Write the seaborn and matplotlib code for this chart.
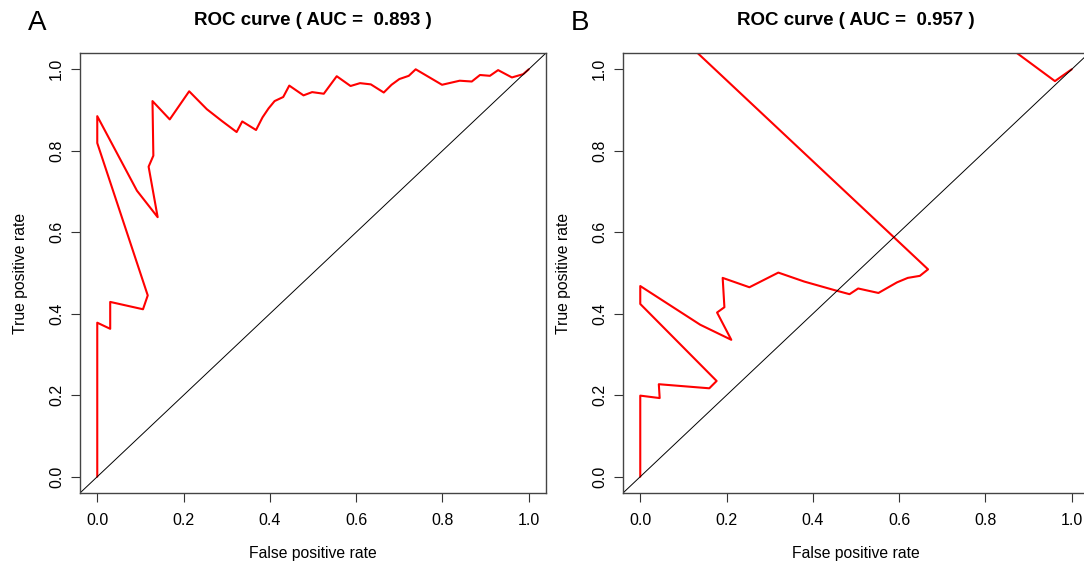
# ROC curves for two classifiers, side by side (A / B)

import numpy as np
import pandas as pd
import matplotlib as mpl
mpl.use('Agg')
import matplotlib.pyplot as plt
import seaborn as sns

sns.set_style('ticks')
plt.rcParams['font.family'] = ['Liberation Sans', 'DejaVu Sans']
plt.rcParams['text.color'] = 'black'
plt.rcParams['axes.labelcolor'] = 'black'
plt.rcParams['xtick.color'] = 'black'
plt.rcParams['ytick.color'] = 'black'

# DATA
fpr_a = [0.0, 0.0, 0.030, 0.030, 0.106, 0.117, 0.0, 0.0, 0.092, 0.140, 0.119, 0.130,
         0.128, 0.168, 0.213, 0.254, 0.289, 0.323, 0.336, 0.368, 0.383, 0.397, 0.411,
         0.431, 0.445, 0.478, 0.498, 0.525, 0.555, 0.587, 0.609, 0.634, 0.664, 0.682,
         0.700, 0.722, 0.738, 0.799, 0.840, 0.868, 0.887, 0.910, 0.929, 0.961, 0.987, 1.0]
tpr_a = [0.0, 0.378, 0.363, 0.429, 0.411, 0.445, 0.819, 0.885, 0.702, 0.637, 0.761, 0.788,
         0.922, 0.877, 0.946, 0.902, 0.873, 0.846, 0.872, 0.851, 0.882, 0.904, 0.922,
         0.932, 0.960, 0.936, 0.944, 0.940, 0.983, 0.959, 0.966, 0.963, 0.943, 0.962,
         0.976, 0.984, 1.0, 0.962, 0.972, 0.970, 0.986, 0.984, 0.998, 0.980, 0.988, 1.0]

fpr_b = [0.0, 0.0, 0.045, 0.043, 0.160, 0.177, 0.0, 0.0, 0.139, 0.211, 0.178, 0.195,
         0.191, 0.253, 0.320, 0.380, 0.450, 0.485, 0.505, 0.552, 0.595, 0.620, 0.648,
         0.667, 0.0, 0.75, 0.961, 1.0]
tpr_b = [0.0, 0.199, 0.193, 0.227, 0.217, 0.235, 0.424, 0.468, 0.373, 0.336, 0.403, 0.416,
         0.488, 0.465, 0.501, 0.479, 0.458, 0.448, 0.462, 0.451, 0.477, 0.488, 0.493,
         0.509, 1.172, 1.136, 0.971, 1.0]

auc_values = [0.893, 0.957]
panel_letters = ['A', 'B']

ticks = [0.0, 0.2, 0.4, 0.6, 0.8, 1.0]
tick_labels = ['0.0', '0.2', '0.4', '0.6', '0.8', '1.0']

# FIGURE
fig = plt.figure(figsize=(10.84, 5.67), dpi=100)
W, H = 1084, 567
ax_boxes = [(80, 53, 466, 440), (623, 53, 466, 440)]

curves = [(fpr_a, tpr_a), (fpr_b, tpr_b)]
for i, ((fpr, tpr), (x0, y0, w, h)) in enumerate(zip(curves, ax_boxes)):
    ax = fig.add_axes([x0 / W, 1 - (y0 + h) / H, w / W, h / H])
    df = pd.DataFrame({'fpr': fpr, 'tpr': tpr})
    sns.lineplot(data=df, x='fpr', y='tpr', sort=False, estimator=None,
                 color='#ff0000', linewidth=1.5, ax=ax)
    # chance line, full width like R's abline
    ax.axline((0, 0), slope=1, color='black', linewidth=0.7)

    ax.set_xlim(-0.04, 1.04)
    ax.set_ylim(-0.04, 1.04)
    ax.set_xticks(ticks)
    ax.set_xticklabels(tick_labels, fontsize=11.5)
    ax.set_yticks(ticks)
    ax.set_yticklabels(tick_labels, fontsize=11.5, rotation=90, va='center')
    ax.tick_params(axis='both', direction='out', length=6.5, width=0.8,
                   color='#333333')
    ax.tick_params(axis='x', pad=8)
    ax.tick_params(axis='y', pad=5)
    for sp in ax.spines.values():
        sp.set_visible(True)
        sp.set_color('#444444')
        sp.set_linewidth(1.0)

    ax.set_xlabel('False positive rate', fontsize=11.3, labelpad=13)
    ax.set_ylabel('True positive rate', fontsize=11.3, labelpad=15)
    ax.set_title(f'ROC curve ( AUC =  {auc_values[i]} )', fontsize=13.5,
                 fontweight='bold', pad=20)
    fig.text((x0 - 52) / W, 1 - 23 / H, panel_letters[i], fontsize=20,
             ha='left', va='center')

plt.savefig('out.png', dpi=100)
plt.close()
